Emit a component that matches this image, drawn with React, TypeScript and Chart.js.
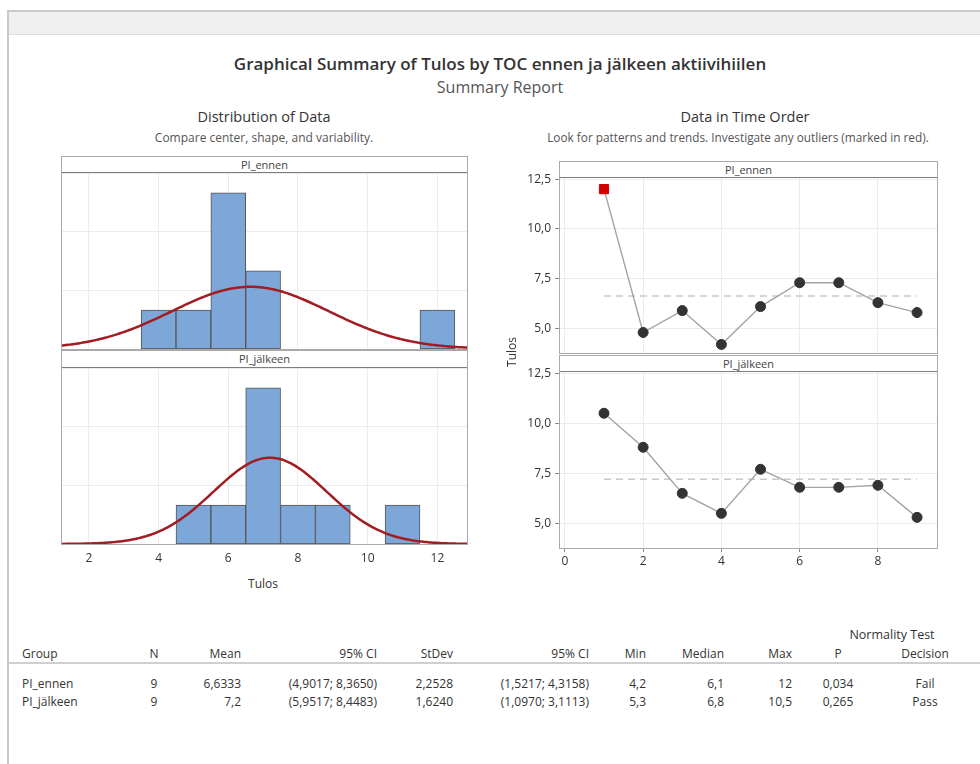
import React, { useEffect, useRef } from 'react';
import { Chart, registerables } from 'chart.js';

Chart.register(...registerables);

const FONT = "'Open Sans', 'Noto Sans', 'DejaVu Sans', sans-serif";
Chart.defaults.font.family = FONT;

// ---------- data ----------
const groups = ['PI_ennen', 'PI_jälkeen'];
const observation = [1, 2, 3, 4, 5, 6, 7, 8, 9];
const ennenValues = [12, 4.8, 5.9, 4.2, 6.1, 7.3, 7.3, 6.3, 5.8];
const jalkeenValues = [10.5, 8.8, 6.5, 5.5, 7.7, 6.8, 6.8, 6.9, 5.3];
const ennenOutliers = [true, false, false, false, false, false, false, false, false];
const jalkeenOutliers = [false, false, false, false, false, false, false, false, false];

const ennenBinCenters = [4, 5, 6, 7, 12];
const ennenBinCounts = [1, 1, 4, 2, 1];
const jalkeenBinCenters = [5, 6, 7, 8, 9, 11];
const jalkeenBinCounts = [1, 1, 4, 1, 1, 1];

const groupN = [9, 9];
const groupMean = [6.6333, 7.2];
const groupStDev = [2.2528, 1.624];

const histXTicks = [2, 4, 6, 8, 10, 12];
const histYGrid = [1.5, 3, 4.5];
const timeXTicks = [0, 2, 4, 6, 8];
const timeYTicks = [5, 7.5, 10, 12.5];

// table
const tableHeaders = ['Group', 'N', 'Mean', '95% CI', 'StDev', '95% CI', 'Min', 'Median', 'Max', 'P', 'Decision'];
const colN = ['9', '9'];
const colMean = ['6,6333', '7,2'];
const colMeanCI = ['(4,9017; 8,3650)', '(5,9517; 8,4483)'];
const colStDev = ['2,2528', '1,6240'];
const colStDevCI = ['(1,5217; 4,3158)', '(1,0970; 3,1113)'];
const colMin = ['4,2', '5,3'];
const colMedian = ['6,1', '6,8'];
const colMax = ['12', '10,5'];
const colP = ['0,034', '0,265'];
const colDecision = ['Fail', 'Pass'];

// ---------- helpers ----------
const HIST_MIN = 1.2;
const HIST_MAX = 12.85;
const HIST_YMAX = 4.56;
const BIN_WIDTH = 1;

function fittedNormal(mean: number, sd: number, n: number) {
  const pts: { x: number; y: number }[] = [];
  const steps = 240;
  for (let i = 0; i <= steps; i++) {
    const x = HIST_MIN + ((HIST_MAX - HIST_MIN) * i) / steps;
    const z = (x - mean) / sd;
    const y = (n * BIN_WIDTH * Math.exp(-0.5 * z * z)) / (sd * Math.sqrt(2 * Math.PI));
    pts.push({ x, y });
  }
  return pts;
}

const GRID = '#ececec';

function histConfig(centers: number[], counts: number[], gi: number, showX: boolean): any {
  return {
    type: 'bar',
    data: {
      datasets: [
        {
          type: 'line',
          data: fittedNormal(groupMean[gi], groupStDev[gi], groupN[gi]),
          borderColor: '#a11d21',
          borderWidth: 2.5,
          pointRadius: 0,
          tension: 0,
          order: 0,
        },
        {
          type: 'bar',
          data: centers.map((c, i) => ({ x: c, y: counts[i] })),
          backgroundColor: '#7ca7d8',
          borderColor: '#555555',
          borderWidth: 1,
          borderSkipped: false,
          barPercentage: 1,
          categoryPercentage: 1,
          order: 1,
        },
      ],
    },
    options: {
      animation: false,
      responsive: false,
      events: [],
      layout: { padding: 0, autoPadding: false },
      plugins: { legend: { display: false }, tooltip: { enabled: false } },
      scales: {
        x: {
          type: 'linear',
          min: HIST_MIN,
          max: HIST_MAX,
          offset: false,
          grid: { offset: false, color: GRID, drawTicks: showX, tickLength: 4, tickColor: 'rgba(0,0,0,0)' },
          border: { display: false },
          ticks: {
            display: showX,
            color: '#333',
            font: { family: FONT, size: 12 },
            padding: 3,
            callback: (v: number) => String(v),
          },
          afterBuildTicks: (s: any) => {
            s.ticks = histXTicks.map((v) => ({ value: v }));
          },
          afterFit: (s: any) => {
            s.height = showX ? 30 : 0;
            s.paddingLeft = 0;
            s.paddingRight = 0;
          },
        },
        y: {
          type: 'linear',
          min: 0,
          max: HIST_YMAX,
          grid: { color: GRID, drawTicks: false },
          border: { display: false },
          ticks: { display: false },
          afterBuildTicks: (s: any) => {
            s.ticks = histYGrid.map((v) => ({ value: v }));
          },
          afterFit: (s: any) => {
            s.width = 0;
            s.paddingTop = 0;
            s.paddingBottom = 0;
          },
        },
      },
    },
  };
}

function timeConfig(values: number[], outliers: boolean[], gi: number, showX: boolean): any {
  return {
    type: 'line',
    data: {
      datasets: [
        {
          data: observation.map((x, i) => ({ x, y: values[i] })),
          borderColor: '#a3a3a3',
          borderWidth: 1.4,
          pointStyle: outliers.map((o) => (o ? 'rect' : 'circle')),
          pointRadius: outliers.map((o) => (o ? 6.5 : 5)),
          pointBackgroundColor: outliers.map((o) => (o ? '#d20000' : '#333333')),
          pointBorderColor: outliers.map((o) => (o ? '#d20000' : '#333333')),
          pointBorderWidth: 1,
          tension: 0,
          order: 0,
        },
        {
          data: [
            { x: observation[0], y: groupMean[gi] },
            { x: observation[observation.length - 1], y: groupMean[gi] },
          ],
          borderColor: '#c9c9c9',
          borderWidth: 1.4,
          borderDash: [7, 5],
          pointRadius: 0,
          order: 1,
        },
      ],
    },
    options: {
      animation: false,
      responsive: false,
      events: [],
      layout: { padding: { top: 8, left: 0, right: 0, bottom: 0 }, autoPadding: false },
      plugins: { legend: { display: false }, tooltip: { enabled: false } },
      scales: {
        x: {
          type: 'linear',
          min: -0.15,
          max: 9.51,
          grid: { color: GRID, drawTicks: showX, tickLength: 4, tickColor: '#8a8a8a' },
          border: { display: false },
          ticks: {
            display: showX,
            color: '#333',
            font: { family: FONT, size: 12 },
            padding: 2,
            callback: (v: number) => String(v),
          },
          afterBuildTicks: (s: any) => {
            s.ticks = timeXTicks.map((v) => ({ value: v }));
          },
          afterFit: (s: any) => {
            s.height = showX ? 28 : 0;
            s.paddingLeft = 0;
            s.paddingRight = 0;
          },
        },
        y: {
          type: 'linear',
          min: 3.77,
          max: 12.66,
          grid: { color: GRID, drawTicks: true, tickLength: 4, tickColor: '#8a8a8a' },
          border: { display: false },
          ticks: {
            color: '#333',
            font: { family: FONT, size: 12 },
            padding: 4,
            callback: (v: number) => v.toFixed(1).replace('.', ','),
          },
          afterBuildTicks: (s: any) => {
            s.ticks = timeYTicks.map((v) => ({ value: v }));
          },
          afterFit: (s: any) => {
            s.width = 44;
            s.paddingTop = 0;
            s.paddingBottom = 0;
          },
        },
      },
    },
  };
}

function ChartCanvas(props: { left: number; top: number; width: number; height: number; config: any }) {
  const ref = useRef<HTMLCanvasElement>(null);
  useEffect(() => {
    const chart = new Chart(ref.current as HTMLCanvasElement, props.config);
    return () => chart.destroy();
  }, []);
  return (
    <canvas
      ref={ref}
      width={props.width}
      height={props.height}
      style={{ position: 'absolute', left: props.left, top: props.top, width: props.width, height: props.height }}
    />
  );
}

function Txt(props: {
  x: number;
  y: number;
  align?: 'left' | 'right' | 'center';
  size?: number;
  weight?: number;
  color?: string;
  children: React.ReactNode;
}) {
  const align = props.align || 'left';
  const size = props.size || 12;
  const lh = Math.round(size * 1.4);
  const style: React.CSSProperties = {
    position: 'absolute',
    top: props.y - lh / 2,
    height: lh,
    lineHeight: lh + 'px',
    fontSize: size,
    fontWeight: props.weight || 400,
    color: props.color || '#333',
    whiteSpace: 'nowrap',
    fontFamily: FONT,
  };
  if (align === 'left') {
    style.left = props.x;
  } else if (align === 'right') {
    style.right = 980 - props.x;
    style.textAlign = 'right';
  } else {
    style.left = props.x - 300;
    style.width = 600;
    style.textAlign = 'center';
  }
  return <div style={style}>{props.children}</div>;
}

function Panel(props: { left: number; top: number; width: number; height: number; strip: number; label: string }) {
  return (
    <div
      style={{
        position: 'absolute',
        left: props.left,
        top: props.top,
        width: props.width,
        height: props.height,
        boxSizing: 'border-box',
        border: '1px solid #a9a9a9',
        pointerEvents: 'none',
      }}
    >
      <div
        style={{
          position: 'absolute',
          left: 0,
          top: 0,
          right: 0,
          height: props.strip,
          boxSizing: 'border-box',
          borderBottom: '1px solid #7d7d7d',
          background: '#fff',
          textAlign: 'center',
          fontSize: 11,
          lineHeight: props.strip - 1 + 'px',
          color: '#444',
          fontFamily: FONT,
        }}
      >
        {props.label}
      </div>
    </div>
  );
}

export default function App() {
  const rowsY = [683, 701];
  const cols: { x: number; align: 'left' | 'right' | 'center'; values: string[] }[] = [
    { x: 22, align: 'left', values: groups },
    { x: 154, align: 'center', values: colN },
    { x: 241, align: 'right', values: colMean },
    { x: 377, align: 'right', values: colMeanCI },
    { x: 453, align: 'right', values: colStDev },
    { x: 589, align: 'right', values: colStDevCI },
    { x: 646, align: 'right', values: colMin },
    { x: 724, align: 'right', values: colMedian },
    { x: 792, align: 'right', values: colMax },
    { x: 838, align: 'center', values: colP },
    { x: 925, align: 'center', values: colDecision },
  ];

  return (
    <div
      style={{
        position: 'absolute',
        left: 0,
        top: 0,
        width: 980,
        height: 764,
        overflow: 'hidden',
        background: '#fff',
        fontFamily: FONT,
      }}
    >
      {/* window frame */}
      <div
        style={{
          position: 'absolute',
          left: 7,
          top: 10,
          width: 973,
          height: 25,
          boxSizing: 'border-box',
          background: '#f0f0f0',
          borderTop: '2px solid #c9c9c9',
          borderBottom: '1px solid #dddddd',
        }}
      />
      <div style={{ position: 'absolute', left: 7, top: 10, width: 2, height: 754, background: '#c9c9c9' }} />

      {/* titles */}
      <Txt x={500} y={64} align="center" size={17} weight={600} color="#333">
        Graphical Summary of Tulos by TOC ennen ja jälkeen aktiivihiilen
      </Txt>
      <Txt x={500} y={87} align="center" size={16} color="#555">
        Summary Report
      </Txt>
      <Txt x={264} y={117} align="center" size={14.5} weight={500} color="#333">
        Distribution of Data
      </Txt>
      <Txt x={264} y={137} align="center" size={12} color="#555">
        Compare center, shape, and variability.
      </Txt>
      <Txt x={745} y={117} align="center" size={14.5} weight={500} color="#333">
        Data in Time Order
      </Txt>
      <Txt x={738} y={137} align="center" size={11.8} color="#555">
        Look for patterns and trends. Investigate any outliers (marked in red).
      </Txt>

      {/* histograms */}
      <ChartCanvas left={61} top={171} width={406} height={178} config={histConfig(ennenBinCenters, ennenBinCounts, 0, false)} />
      <ChartCanvas left={61} top={366} width={406} height={208} config={histConfig(jalkeenBinCenters, jalkeenBinCounts, 1, true)} />
      <Panel left={61} top={156} width={407} height={194} strip={16} label={groups[0]} />
      <Panel left={61} top={350} width={407} height={195} strip={17} label={groups[1]} />
      <Txt x={263} y={583} align="center" size={12} color="#333">
        Tulos
      </Txt>

      {/* time order */}
      <ChartCanvas left={515} top={168} width={422} height={185} config={timeConfig(ennenValues, ennenOutliers, 0, false)} />
      <ChartCanvas left={515} top={362} width={422} height={214} config={timeConfig(jalkeenValues, jalkeenOutliers, 1, true)} />
      <Panel left={559} top={161} width={379} height={193} strip={16} label={groups[0]} />
      <Panel left={559} top={355} width={379} height={194} strip={16} label={groups[1]} />
      <div
        style={{
          position: 'absolute',
          left: 512 - 40,
          top: 352 - 9,
          width: 80,
          height: 18,
          lineHeight: '18px',
          textAlign: 'center',
          fontSize: 12,
          color: '#333',
          transform: 'rotate(-90deg)',
          fontFamily: FONT,
        }}
      >
        Tulos
      </div>

      {/* table */}
      <Txt x={892} y={635} align="center" size={12.5} color="#333">
        Normality Test
      </Txt>
      {cols.map((c, i) => (
        <Txt key={'h' + i} x={c.x} y={653} align={c.align} size={12} color="#333">
          {tableHeaders[i]}
        </Txt>
      ))}
      <div style={{ position: 'absolute', left: 9, top: 662, width: 971, height: 2, background: '#cfcfcf' }} />
      {cols.map((c, i) =>
        c.values.map((v, r) => (
          <Txt key={'c' + i + '-' + r} x={c.x} y={rowsY[r]} align={c.align} size={12} color="#333">
            {v}
          </Txt>
        ))
      )}
    </div>
  );
}
